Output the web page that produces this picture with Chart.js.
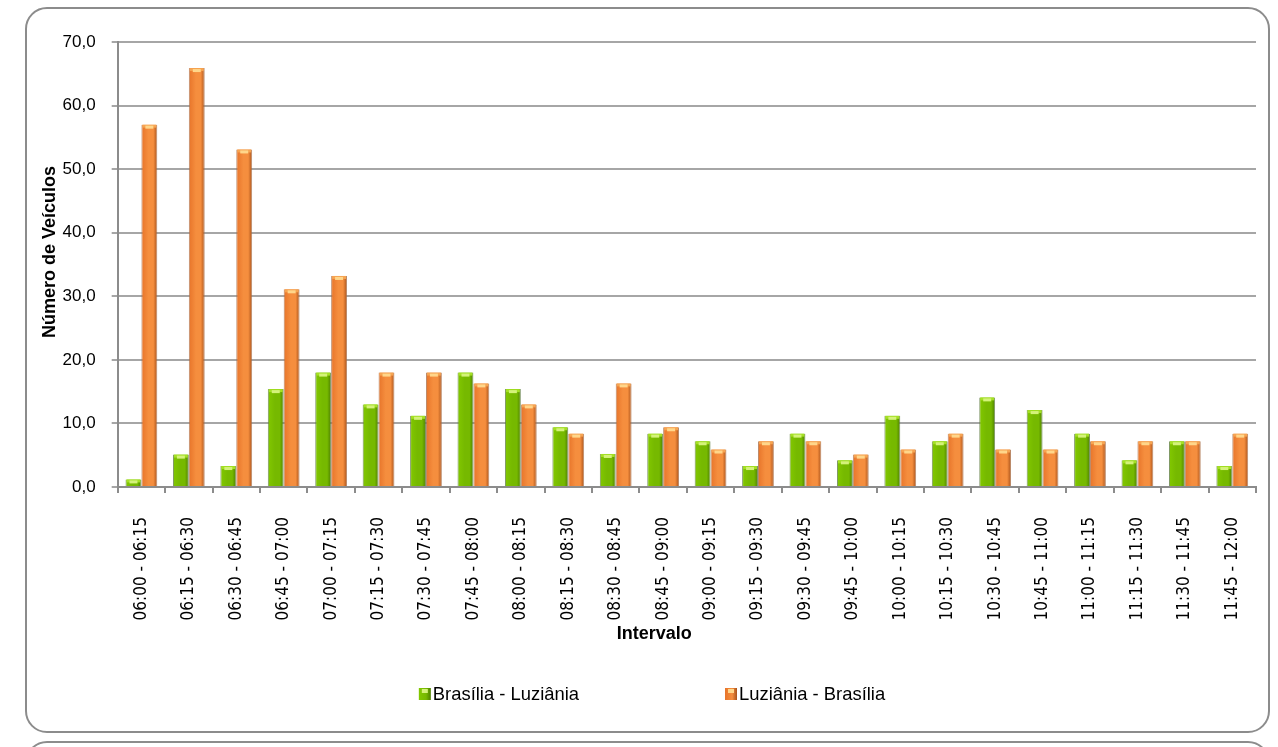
<!DOCTYPE html>
<html>
<head>
<meta charset="utf-8">
<script src="https://cdn.jsdelivr.net/npm/chart.js@4.4.1/dist/chart.umd.min.js"></script>
<style>
  html, body { margin:0; padding:0; background:#fff; }
  body { width:1278px; height:747px; position:relative; overflow:hidden; }
  #frame { position:absolute; left:25px; top:7px; width:1245px; height:726px; border:2px solid #8c8c8c; border-radius:22px; box-sizing:border-box; }
  #frame2 { position:absolute; left:25px; top:741px; width:1245px; height:60px; border:2px solid #8c8c8c; border-radius:22px; box-sizing:border-box; }
  #wrap { position:absolute; left:0; top:0; width:1278px; height:747px; }
</style>
</head>
<body>
<div id="frame"></div>
<div id="frame2"></div>
<div id="wrap"><canvas id="c" width="1278" height="747"></canvas></div>
<script>
const categories = ["06:00 - 06:15","06:15 - 06:30","06:30 - 06:45","06:45 - 07:00","07:00 - 07:15","07:15 - 07:30","07:30 - 07:45","07:45 - 08:00","08:00 - 08:15","08:15 - 08:30","08:30 - 08:45","08:45 - 09:00","09:00 - 09:15","09:15 - 09:30","09:30 - 09:45","09:45 - 10:00","10:00 - 10:15","10:15 - 10:30","10:30 - 10:45","10:45 - 11:00","11:00 - 11:15","11:15 - 11:30","11:30 - 11:45","11:45 - 12:00"];
const brasiliaLuziania = [1.2, 5.1, 3.3, 15.4, 18.0, 13.0, 11.2, 18.0, 15.4, 9.4, 5.2, 8.4, 7.2, 3.3, 8.4, 4.2, 11.2, 7.2, 14.1, 12.1, 8.4, 4.2, 7.2, 3.3];
const luzianiaBrasilia = [57.0, 65.9, 53.1, 31.1, 33.2, 18.0, 18.0, 16.3, 13.0, 8.4, 16.3, 9.4, 5.9, 7.2, 7.2, 5.1, 5.9, 8.4, 5.9, 5.9, 7.2, 7.2, 7.2, 8.4];
const seriesNames = ["Brasília - Luziânia", "Luziânia - Brasília"];
const yTicks = [0, 10, 20, 30, 40, 50, 60, 70];

const CAT_PCT = 0.67;
const greenStops = ["#82c800", "#76b900", "#4d7f00"];
const orangeStops = ["#e7742a", "#f58e3e", "#a9521a"];
const capColors = [["#a4e024", "#d4f27a"], ["#f6a452", "#ffd68a"]];

function barGradient(ctx, stops) {
  const chart = ctx.chart;
  const xs = chart.scales && chart.scales.x;
  if (!xs || ctx.type !== 'data' || !isFinite(xs.width) || xs.width <= 0) return stops[1];
  const catW = xs.width / categories.length;
  const bw = catW * CAT_PCT / 2;
  const center = xs.getPixelForValue(ctx.dataIndex) + (ctx.datasetIndex === 0 ? -bw / 2 : bw / 2);
  const g = chart.ctx.createLinearGradient(center - bw / 2, 0, center + bw / 2, 0);
  g.addColorStop(0, stops[0]);
  g.addColorStop(0.45, stops[1]);
  g.addColorStop(0.75, stops[1]);
  g.addColorStop(1, stops[2]);
  return g;
}

const tickFont = "'Liberation Sans', Arial, sans-serif";
const xTickFont = "'Liberation Sans Narrow', 'DejaVu Sans Condensed', 'Liberation Sans', sans-serif";

// light cap on top of each bar (uses the bar elements laid out by Chart.js)
const barCaps = {
  id: 'barCaps',
  afterDatasetsDraw(chart) {
    const c = chart.ctx;
    c.save();
    chart.data.datasets.forEach((d, di) => {
      const meta = chart.getDatasetMeta(di);
      meta.data.forEach(el => {
        const w = el.width, x0 = el.x - w / 2, y0 = el.y;
        c.fillStyle = capColors[di][0];
        c.fillRect(x0 + 1, y0, w - 2, 3);
        c.fillStyle = capColors[di][1];
        c.fillRect(el.x - w / 4, y0 + 1, w / 2, 3);
      });
    });
    c.restore();
  }
};

// legend drawn on the chart's own canvas, spaced like the original
const spacedLegend = {
  id: 'spacedLegend',
  afterDraw(chart) {
    const c = chart.ctx;
    c.save();
    c.font = "18.4px " + tickFont;
    c.textBaseline = 'middle';
    const gap = 146, box = 12, boxGap = 2;
    const widths = seriesNames.map(t => c.measureText(t).width);
    const total = widths.reduce((a, w) => a + box + boxGap + w, 0) + gap;
    let x = chart.width / 2 + 13 - total / 2;
    const y = 694;
    chart.data.datasets.forEach((d, i) => {
      const st = i === 0 ? greenStops : orangeStops;
      const g = c.createLinearGradient(x, 0, x + box, 0);
      g.addColorStop(0, st[0]); g.addColorStop(0.6, st[1]); g.addColorStop(1, st[2]);
      c.fillStyle = g;
      c.fillRect(x, y - box / 2, box, box);
      c.fillStyle = capColors[i][1];
      c.fillRect(x + 3, y - box / 2 + 1, box - 6, 4);
      c.fillStyle = '#000';
      c.fillText(d.label, x + box + boxGap, y + 1);
      x += box + boxGap + widths[i] + gap;
    });
    c.restore();
  }
};

new Chart(document.getElementById('c'), {
  type: 'bar',
  data: {
    labels: categories,
    datasets: [
      { label: seriesNames[0], data: brasiliaLuziania, backgroundColor: (c) => barGradient(c, greenStops), borderColor: "rgba(90,120,60,0.8)", borderWidth: {top:0,left:1,right:1,bottom:0}, borderSkipped: 'bottom' },
      { label: seriesNames[1], data: luzianiaBrasilia, backgroundColor: (c) => barGradient(c, orangeStops), borderColor: "rgba(170,110,70,0.8)", borderWidth: {top:0,left:1,right:1,bottom:0}, borderSkipped: 'bottom' }
    ]
  },
  plugins: [barCaps, spacedLegend],
  options: {
    responsive: false,
    animation: false,
    devicePixelRatio: 1,
    layout: { padding: { left: 39, top: 42, right: 22, bottom: 105 } },
    datasets: { bar: { categoryPercentage: CAT_PCT, barPercentage: 1.0 } },
    plugins: {
      tooltip: { enabled: false },
      legend: { display: false }
    },
    scales: {
      x: {
        offset: true,
        grid: { display: true, drawOnChartArea: false, offset: true, tickLength: 6, color: '#8c8c8c', lineWidth: 2 },
        border: { display: true, color: '#8c8c8c', width: 2 },
        ticks: { color: '#000', font: { family: xTickFont, size: 17 }, maxRotation: 90, minRotation: 90, padding: 24, autoSkip: false },
        title: { display: true, text: 'Intervalo' + ' '.repeat(13), color: '#000', font: { family: tickFont, size: 18, weight: 'bold' }, padding: { top: -21, bottom: -3 } }
      },
      y: {
        min: 0, max: 70,
        afterBuildTicks: (axis) => { axis.ticks = yTicks.map(v => ({ value: v })); },
        grid: { color: '#a6a6a6', lineWidth: 2, tickLength: 6 },
        border: { display: true, color: '#8c8c8c', width: 2 },
        ticks: { color: '#000', font: { family: tickFont, size: 17 }, padding: 16, callback: (v) => Number(v).toFixed(1).replace('.', ',') },
        title: { display: true, text: ' '.repeat(5) + 'Número de Veículos', color: '#000', font: { family: tickFont, size: 18, weight: 'bold' }, padding: { top: 0, bottom: -14 } }
      }
    }
  }
});
</script>
</body>
</html>
